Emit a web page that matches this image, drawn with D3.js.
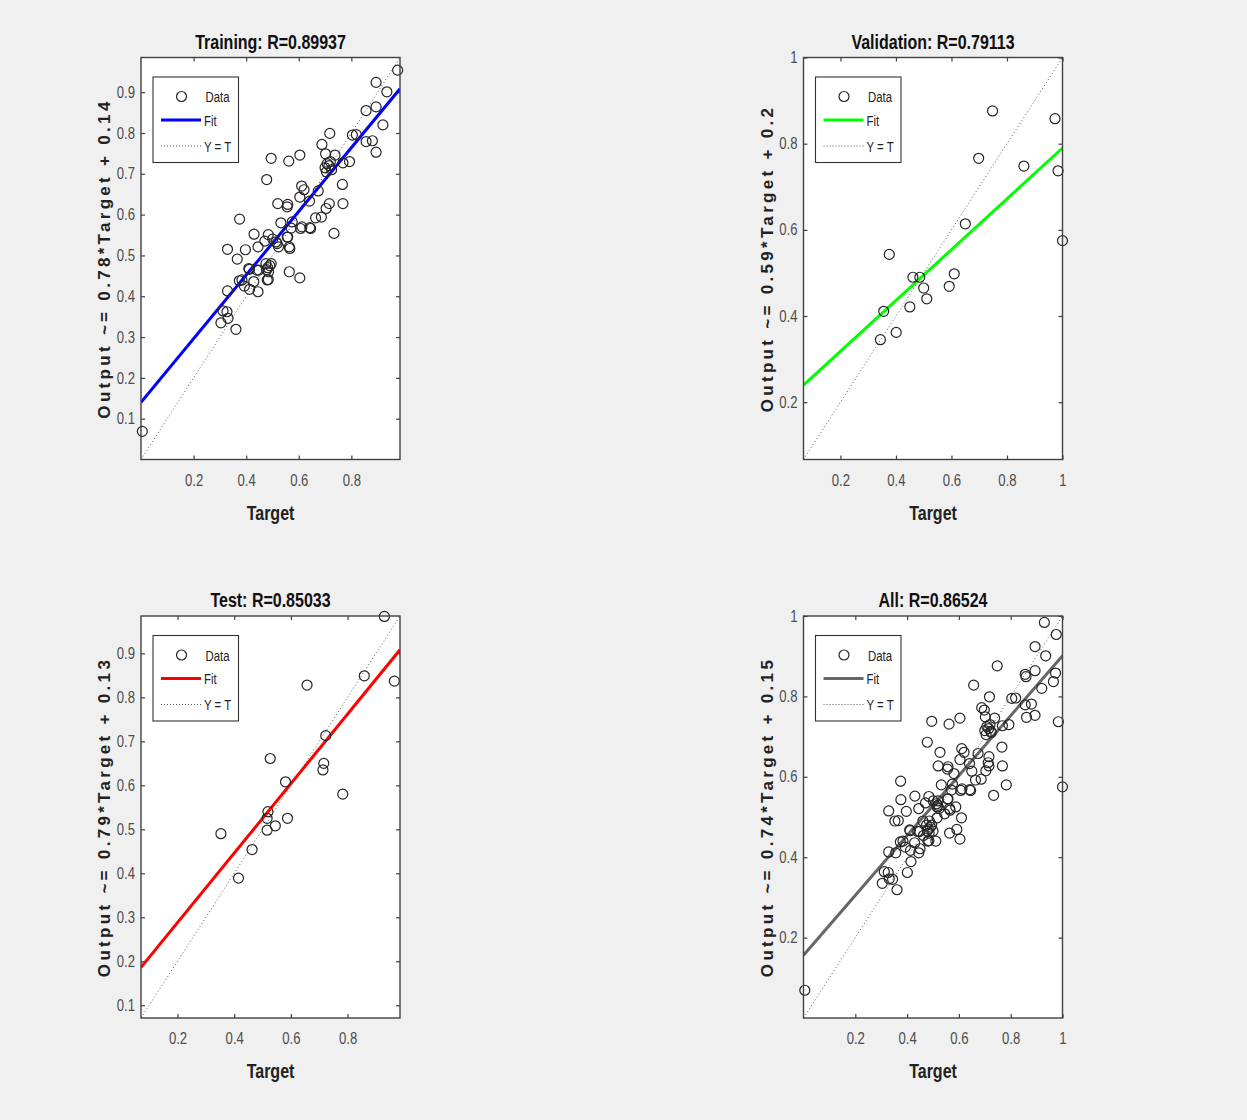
<!DOCTYPE html>
<html>
<head>
<meta charset="utf-8">
<script src="https://cdn.jsdelivr.net/npm/d3@7"></script>
<style>
  html, body { margin: 0; padding: 0; background: #f0f0f0; }
  svg { display: block; }
  text { font-family: "Liberation Sans", Arial, sans-serif; }
</style>
</head>
<body>
<svg id="chart" width="1247" height="1120"></svg>
<script>
// regression data (target, output)
var trainTarget = [0.976, 0.894, 0.935, 0.894, 0.856, 0.920, 0.804, 0.819, 0.856, 0.880, 0.894, 0.793, 0.768,
  0.718, 0.688, 0.702, 0.738, 0.700, 0.708, 0.715, 0.720, 0.705, 0.725, 0.766, 0.768, 0.674, 0.716, 0.704,
  0.686, 0.664, 0.642, 0.734, 0.611, 0.620, 0.604, 0.641, 0.604, 0.562, 0.495, 0.478, 0.558, 0.520, 0.556,
  0.532, 0.575, 0.612, 0.571, 0.375, 0.430, 0.484, 0.501, 0.556, 0.564, 0.523, 0.471, 0.445, 0.397, 0.329,
  0.366, 0.514, 0.564, 0.604, 0.374, 0.412, 0.393, 0.429, 0.445, 0.413, 0.329, 0.475, 0.482, 0.490, 0.485,
  0.495, 0.478, 0.484, 0.448, 0.312, 0.327, 0.304, 0.331, 0.361, 0.005, 0.607, 0.645, 0.558, 0.566, 0.518,
  0.410, 0.441, 0.384, 0.480];
var trainOutput = [0.954, 0.924, 0.901, 0.864, 0.855, 0.820, 0.795, 0.796, 0.779, 0.781, 0.753, 0.730, 0.727,
  0.799, 0.772, 0.749, 0.746, 0.715, 0.725, 0.720, 0.730, 0.705, 0.710, 0.674, 0.627, 0.658, 0.627, 0.615,
  0.594, 0.592, 0.568, 0.554, 0.670, 0.661, 0.643, 0.633, 0.746, 0.731, 0.738, 0.686, 0.625, 0.627, 0.619,
  0.580, 0.582, 0.570, 0.567, 0.589, 0.552, 0.551, 0.540, 0.545, 0.521, 0.521, 0.535, 0.521, 0.514, 0.515,
  0.491, 0.533, 0.460, 0.445, 0.438, 0.466, 0.425, 0.436, 0.411, 0.417, 0.413, 0.480, 0.470, 0.475, 0.460,
  0.480, 0.465, 0.441, 0.464, 0.364, 0.362, 0.335, 0.346, 0.319, 0.069, 0.566, 0.566, 0.545, 0.517, 0.529,
  0.468, 0.464, 0.440, 0.440];

var valTarget = [0.376, 0.748, 0.973, 0.698, 0.861, 0.984, 0.650, 1.000, 0.461, 0.486, 0.500, 0.511, 0.610,
  0.592, 0.450, 0.356, 0.401, 0.344];
var valOutput = [0.543, 0.876, 0.858, 0.766, 0.748, 0.737, 0.614, 0.575, 0.490, 0.490, 0.465, 0.440, 0.498,
  0.469, 0.421, 0.411, 0.362, 0.345];

var testTarget = [0.930, 0.965, 0.859, 0.657, 0.723, 0.716, 0.713, 0.783, 0.527, 0.581, 0.588, 0.519, 0.516,
  0.545, 0.516, 0.353, 0.463, 0.415];
var testOutput = [0.984, 0.837, 0.849, 0.828, 0.713, 0.650, 0.635, 0.580, 0.661, 0.608, 0.525, 0.540, 0.525,
  0.508, 0.498, 0.490, 0.454, 0.389];

var allTarget = trainTarget.concat(valTarget, testTarget);
var allOutput = trainOutput.concat(valOutput, testOutput);

var panelNames = ["Training", "Validation", "Test", "All"];
var rValues = ["0.89937", "0.79113", "0.85033", "0.86524"];
var fitSlopes = [0.78, 0.59, 0.79, 0.745];
var fitIntercepts = [0.14, 0.2, 0.13, 0.156];
var slopeLabels = ["0.78", "0.59", "0.79", "0.74"];
var interceptLabels = ["0.14", "0.2", "0.13", "0.15"];
var axisLimits = [[0.0, 0.985], [0.067, 1.0], [0.071, 0.985], [0.0, 1.0]];
var fitColors = ["#0000ff", "#00ff00", "#ff0000", "#666666"];
var yTickSets = [[0.1, 0.2, 0.3, 0.4, 0.5, 0.6, 0.7, 0.8, 0.9], [0.2, 0.4, 0.6, 0.8, 1],
  [0.1, 0.2, 0.3, 0.4, 0.5, 0.6, 0.7, 0.8, 0.9], [0.2, 0.4, 0.6, 0.8, 1]];
var xTickSets = [[0.2, 0.4, 0.6, 0.8], [0.2, 0.4, 0.6, 0.8, 1], [0.2, 0.4, 0.6, 0.8], [0.2, 0.4, 0.6, 0.8, 1]];
var legendLabels = ["Data", "Fit", "Y = T"];
var targets = [trainTarget, valTarget, testTarget, allTarget];
var outputs = [trainOutput, valOutput, testOutput, allOutput];

var svg = d3.select("#chart");
var boxW = 259, boxH = 402;
var origins = [[141, 57.5], [803.5, 57.5], [141, 616], [803.5, 616]];
var fmt = d3.format("");
var SQ = 0.8; // no narrow font installed, squeeze horizontally instead

// narrow text anchored at (px, py)
function narrowText(parent, px, py, anchor, size, str, sq) {
  return parent.append("text")
    .attr("transform", "translate(" + px + "," + py + ") scale(" + (sq || SQ) + ",1)")
    .attr("text-anchor", anchor)
    .style("font-size", size + "px")
    .text(str);
}

panelNames.forEach(function (name, i) {
  var ox = origins[i][0], oy = origins[i][1];
  var lim = axisLimits[i];
  var x = d3.scaleLinear().domain(lim).range([0, boxW]);
  var y = d3.scaleLinear().domain(lim).range([boxH, 0]);

  var g = svg.append("g").attr("transform", "translate(" + ox + "," + oy + ")");

  g.append("rect").attr("width", boxW).attr("height", boxH).attr("fill", "#fff");

  var clip = "clip" + i;
  g.append("clipPath").attr("id", clip)
    .append("rect").attr("width", boxW).attr("height", boxH);

  // axes, ticks pointing inside, on all four sides
  var tickLen = 4;
  var xb = g.append("g").attr("transform", "translate(0," + boxH + ")")
    .call(d3.axisBottom(x).tickValues(xTickSets[i]).tickSize(-tickLen).tickPadding(15).tickFormat(fmt));
  var xt = g.append("g")
    .call(d3.axisTop(x).tickValues(xTickSets[i]).tickSize(-tickLen).tickFormat(""));
  var yl = g.append("g")
    .call(d3.axisLeft(y).tickValues(yTickSets[i]).tickSize(-tickLen).tickFormat(fmt));
  var yr = g.append("g").attr("transform", "translate(" + boxW + ",0)")
    .call(d3.axisRight(y).tickValues(yTickSets[i]).tickSize(-tickLen).tickFormat(""));
  [xb, xt, yl, yr].forEach(function (a) {
    a.select(".domain").remove();
    a.selectAll("line").attr("stroke", "#404040").attr("stroke-width", 1.2);
    a.selectAll("text").attr("fill", "#4d4d4d")
      .attr("transform", "scale(0.82,1)")
      .style("font-size", "16px");
  });
  yl.selectAll("text").attr("x", -6 / 0.82);

  var plot = g.append("g").attr("clip-path", "url(#" + clip + ")");

  // Y = T
  plot.append("line")
    .attr("x1", x(lim[0])).attr("y1", y(lim[0]))
    .attr("x2", x(lim[1])).attr("y2", y(lim[1]))
    .attr("stroke", "#555").attr("stroke-width", 1).attr("stroke-dasharray", "1 2.5");

  // fit
  plot.append("line")
    .attr("x1", x(lim[0])).attr("y1", y(fitSlopes[i] * lim[0] + fitIntercepts[i]))
    .attr("x2", x(lim[1])).attr("y2", y(fitSlopes[i] * lim[1] + fitIntercepts[i]))
    .attr("stroke", fitColors[i]).attr("stroke-width", 3);

  // data circles
  g.append("g").selectAll("circle")
    .data(d3.range(targets[i].length))
    .join("circle")
    .attr("cx", function (k) { return x(targets[i][k]); })
    .attr("cy", function (k) { return y(outputs[i][k]); })
    .attr("r", 5)
    .attr("fill", "none")
    .attr("stroke", "#262626")
    .attr("stroke-width", 1.2);

  // frame
  g.append("rect").attr("width", boxW).attr("height", boxH)
    .attr("fill", "none").attr("stroke", "#404040").attr("stroke-width", 1.4);

  // legend
  var lg = g.append("g").attr("transform", "translate(12,19.5)");
  lg.append("rect").attr("width", 85.5).attr("height", 85.5)
    .attr("fill", "#fff").attr("stroke", "#333").attr("stroke-width", 1.1);
  lg.append("circle").attr("cx", 28.5).attr("cy", 19.5).attr("r", 5)
    .attr("fill", "none").attr("stroke", "#262626").attr("stroke-width", 1.2);
  lg.append("line").attr("x1", 8).attr("x2", 48).attr("y1", 43).attr("y2", 43)
    .attr("stroke", fitColors[i]).attr("stroke-width", 3);
  lg.append("line").attr("x1", 8).attr("x2", 48).attr("y1", 69).attr("y2", 69)
    .attr("stroke", "#555").attr("stroke-width", 1).attr("stroke-dasharray", "1 2");
  legendLabels.forEach(function (lab, k) {
    narrowText(lg, k === 0 ? 52.5 : 51, [19.5, 43, 69][k] + 5.5, "start", 15, lab, 0.76)
      .attr("fill", "#222");
  });

  // title
  narrowText(g, boxW / 2, -9, "middle", 20, name + ": R=" + rValues[i])
    .attr("fill", "#111").style("font-weight", "bold");

  // x label
  narrowText(g, boxW / 2, boxH + 60, "middle", 20, "Target")
    .attr("fill", "#222").style("font-weight", "bold");

  // y label
  var ylab = "Output ~= " + slopeLabels[i] + "*Target + " + interceptLabels[i];
  g.append("text")
    .attr("transform", "translate(-31," + (boxH / 2) + ") rotate(-90)")
    .attr("text-anchor", "middle")
    .attr("fill", "#222")
    .style("font-size", "17px").style("font-weight", "bold")
    .style("letter-spacing", "3.3px")
    .text(ylab);
});
</script>
</body>
</html>
